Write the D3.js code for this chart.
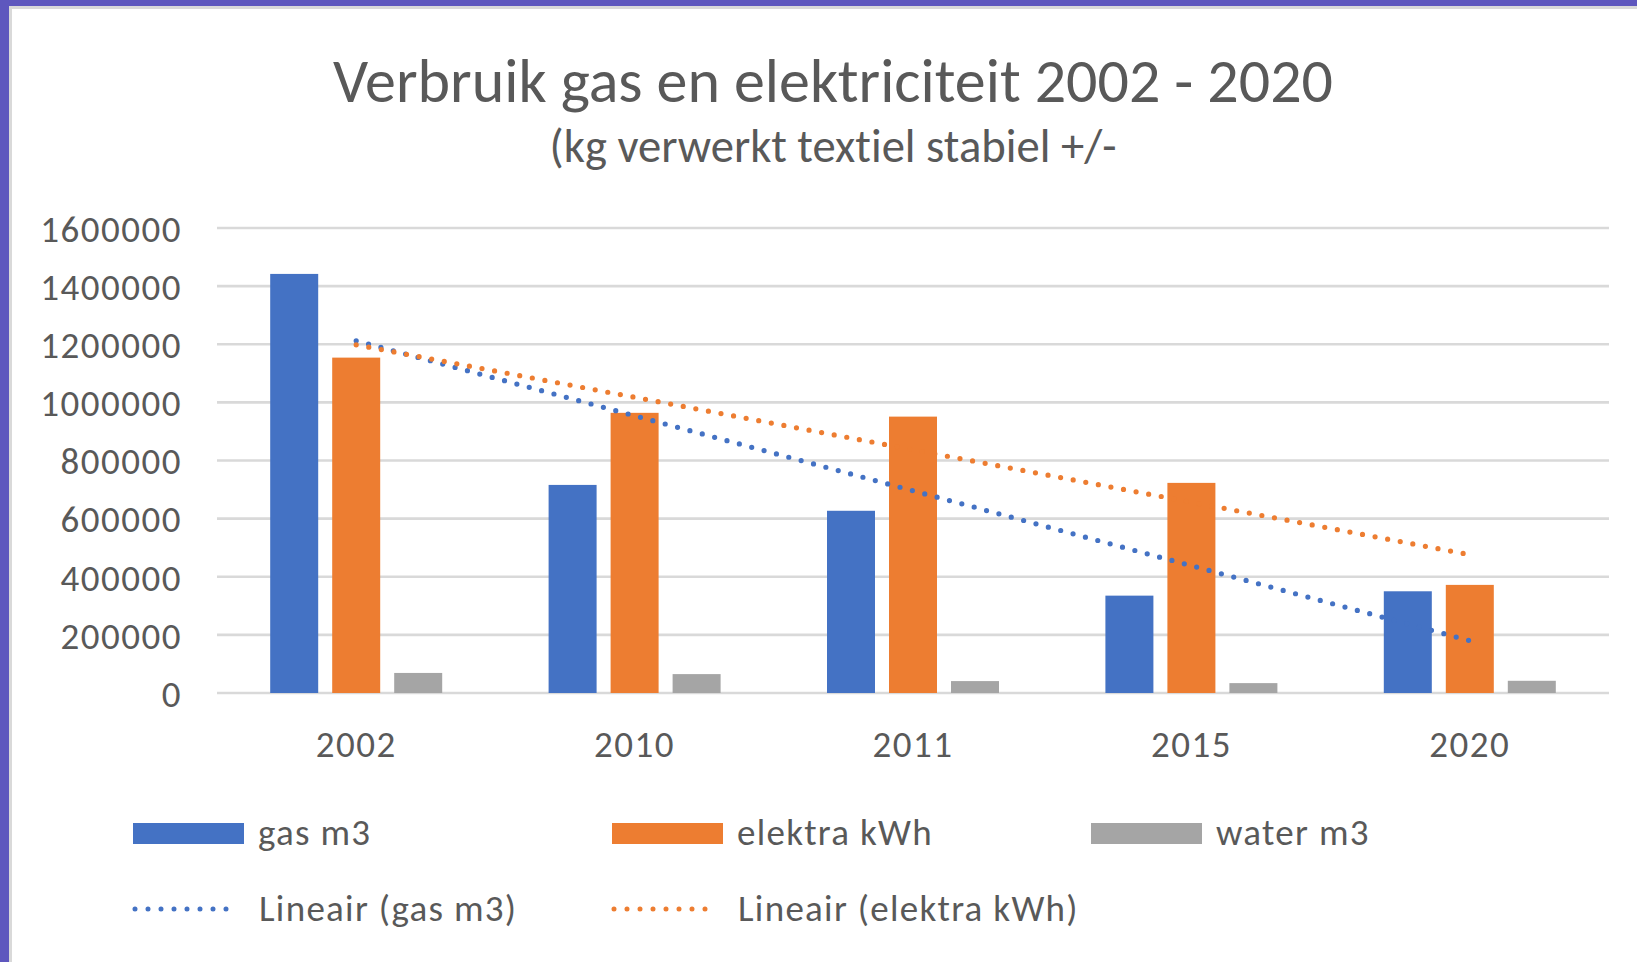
<!DOCTYPE html>
<html>
<head>
<meta charset="utf-8">
<script src="https://cdn.jsdelivr.net/npm/d3@7/dist/d3.min.js"></script>
<style>
  body { margin: 0; background: #fff; overflow: hidden; }
  text { font-family: Carlito, Calibri, Lato, sans-serif; fill: #595959; font-variant-ligatures: none; }
</style>
</head>
<body>
<svg id="mainsvg" width="1637" height="962"></svg>
<script>
// data
const years = ['2002', '2010', '2011', '2015', '2020'];
const seriesNames = ['gas m3', 'elektra kWh', 'water m3'];
const gas = [1442000, 716000, 627000, 335000, 350000];
const elektra = [1154000, 964000, 951000, 723000, 372000];
const water = [69000, 65000, 41000, 34000, 42000];
const yTicks = [0, 200000, 400000, 600000, 800000, 1000000, 1200000, 1400000, 1600000];
// trendline ends (2002 -> 2020)
const gasTrend = [1212000, 180000];
const elektraTrend = [1198000, 476000];
const trendNames = ['Lineair (gas m3)', 'Lineair (elektra kWh)'];

const colors = ['#4472C4', '#ED7D31', '#A5A5A5'];

const svg = d3.select('#mainsvg');
const width = +svg.attr('width');
const height = +svg.attr('height');

// frame
svg.append('rect').attr('x', 0).attr('y', 0).attr('width', width).attr('height', height).attr('fill', '#5E57BE');
svg.append('rect').attr('x', 9).attr('y', 6).attr('width', width).attr('height', height).attr('fill', '#D9D9D9');
svg.append('rect').attr('x', 12).attr('y', 9).attr('width', width).attr('height', height).attr('fill', '#fff');

// fit a text to a target width
function fit(sel, target) {
  const len = sel.node().getComputedTextLength();
  const size = parseFloat(sel.style('font-size'));
  sel.style('font-size', (size * target / len) + 'px');
}

const title = svg.append('text')
  .attr('x', 833).attr('y', 102)
  .attr('text-anchor', 'middle')
  .style('font-size', '48px')
  .text('Verbruik gas en elektriciteit 2002 - 2020');
fit(title, 1000);

const subtitle = svg.append('text')
  .attr('x', 833).attr('y', 162)
  .attr('text-anchor', 'middle')
  .style('font-size', '36px')
  .text('(kg verwerkt textiel stabiel +/-');
fit(subtitle, 567);

// scales
const xScale = d3.scaleBand().domain(years).range([217, 1609]).padding(0);
const xSub = d3.scaleBand().domain(seriesNames).range([-86, 86]).paddingInner(0.2258).paddingOuter(0);
const yScale = d3.scaleLinear().domain([0, 1600000]).range([693, 228]);

// gridlines
svg.append('g')
  .selectAll('line')
  .data(yTicks)
  .join('line')
  .attr('x1', 217).attr('x2', 1609)
  .attr('y1', d => yScale(d)).attr('y2', d => yScale(d))
  .attr('stroke', '#D9D9D9')
  .attr('stroke-width', 2.6);

// y axis labels
const yAxis = svg.append('g')
  .attr('transform', 'translate(217,0)')
  .call(d3.axisLeft(yScale).tickValues(yTicks).tickFormat(d3.format('d')).tickSize(0).tickPadding(35));
yAxis.select('.domain').remove();
yAxis.selectAll('text')
  .style('font-size', '37px').style('letter-spacing', '1.5px')
  .attr('fill', '#595959').attr('dy', '0.36em');

// x axis labels
const xAxis = svg.append('g')
  .attr('transform', 'translate(0,693)')
  .call(d3.axisBottom(xScale).tickSize(0).tickPadding(38));
xAxis.select('.domain').remove();
xAxis.selectAll('text')
  .style('font-size', '37px').style('letter-spacing', '1.5px')
  .attr('fill', '#595959').attr('dy', '0.71em');

// bars
const table = years.map((y, i) => ({year: y, values: [gas[i], elektra[i], water[i]]}));
const groups = svg.append('g')
  .selectAll('g')
  .data(table)
  .join('g')
  .attr('transform', d => `translate(${xScale(d.year) + xScale.bandwidth() / 2},0)`);

groups.selectAll('rect')
  .data(d => d.values.map((v, j) => ({name: seriesNames[j], value: v, color: colors[j]})))
  .join('rect')
  .attr('x', d => xSub(d.name))
  .attr('width', xSub.bandwidth())
  .attr('y', d => yScale(d.value))
  .attr('height', d => yScale(0) - yScale(d.value))
  .attr('fill', d => d.color);

// trendlines
const first = years[0], last = years[years.length - 1];
const cx = y => xScale(y) + xScale.bandwidth() / 2;
const trends = [
  {values: gasTrend, color: colors[0]},
  {values: elektraTrend, color: colors[1]}
];
svg.append('g')
  .selectAll('line')
  .data(trends)
  .join('line')
  .attr('x1', cx(first)).attr('x2', cx(last))
  .attr('y1', d => yScale(d.values[0])).attr('y2', d => yScale(d.values[1]))
  .attr('stroke', d => d.color)
  .attr('stroke-width', 5.2)
  .attr('stroke-linecap', 'round')
  .attr('stroke-dasharray', '0 12.8');

// legend
const legend = svg.append('g').attr('class', 'legend');
const colX = [133, 612, 1091];
seriesNames.forEach((name, i) => {
  const g = legend.append('g').attr('transform', `translate(${colX[i]},823)`);
  g.append('rect').attr('width', 111).attr('height', 21).attr('fill', colors[i]);
  g.append('text').attr('x', 125).attr('y', 22)
    .style('font-size', '37px').style('letter-spacing', '1.3px').text(name);
});
trendNames.forEach((name, i) => {
  const g = legend.append('g').attr('transform', `translate(${colX[i]},909)`);
  g.append('line').attr('x1', 2).attr('x2', 106).attr('y1', 0).attr('y2', 0)
    .attr('stroke', colors[i]).attr('stroke-width', 5)
    .attr('stroke-linecap', 'round').attr('stroke-dasharray', '0 13');
  g.append('text').attr('x', 126).attr('y', 12)
    .style('font-size', '37px').style('letter-spacing', '1.3px').text(name);
});
</script>
</body>
</html>
